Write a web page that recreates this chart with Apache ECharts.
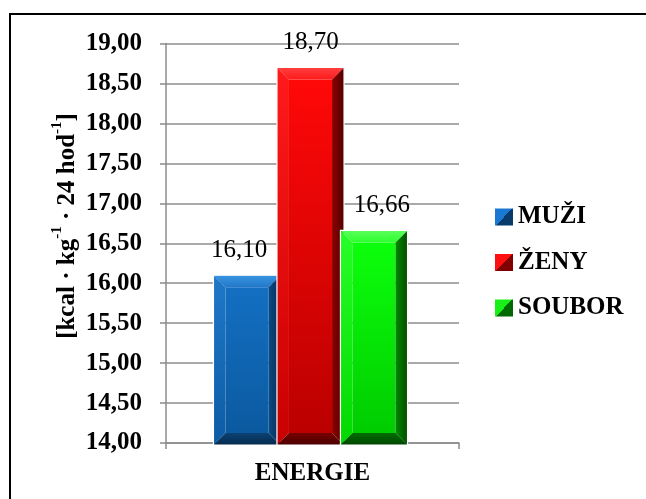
<!DOCTYPE html>
<html>
<head>
<meta charset="utf-8">
<title>ENERGIE</title>
<script src="https://cdn.jsdelivr.net/npm/echarts@6/dist/echarts.min.js"></script>
<style>
  html, body { margin: 0; padding: 0; background: #fff; }
  #chart { width: 646px; height: 499px; }
</style>
</head>
<body>
<div id="chart"></div>
<script>
// Energy intake per kg body weight per 24 h, by group
const categories = ['ENERGIE'];
const seriesNames = ['MUŽI', 'ŽENY', 'SOUBOR'];
const muzi = [16.10];
const zeny = [18.70];
const soubor = [16.66];
const yTickLabels = ['14,00', '14,50', '15,00', '15,50', '16,00', '16,50',
                     '17,00', '17,50', '18,00', '18,50', '19,00'];

const toNum = s => parseFloat(s.replace(',', '.'));
const yMin = toNum(yTickLabels[0]);
const yMax = toNum(yTickLabels[yTickLabels.length - 1]);
const yStep = toNum(yTickLabels[1]) - yMin;
const fmt = v => v.toFixed(2).replace('.', ',');

const FONT = "'Liberation Serif', 'Times New Roman', serif";

// Bevelled bar shading per group
const palettes = [
  { face: ['#146fc2', '#0b5aa0'], top: ['#3a94e2', '#2278c8'], left: ['#1f78c8', '#0c5ca4'],
    right: ['#0a4a86', '#052c55'], bottom: ['#0b4274', '#062a4c'],
    legendLight: '#1a7ad2', legendDark: '#083a6c' },
  { face: ['#ff0808', '#bb0000'], top: ['#ff4040', '#ff1a1a'], left: ['#ff1a1a', '#c80000'],
    right: ['#8e0000', '#520000'], bottom: ['#780000', '#4a0000'],
    legendLight: '#ff1010', legendDark: '#800000' },
  { face: ['#0cff0c', '#00cc00'], top: ['#5cff5c', '#2cff2c'], left: ['#28ff28', '#00d800'],
    right: ['#008a00', '#004d00'], bottom: ['#006e00', '#004400'],
    legendLight: '#18f018', legendDark: '#006a00' }
];

const vGrad = c => ({ type: 'linear', x: 0, y: 0, x2: 0, y2: 1,
  colorStops: [{ offset: 0, color: c[0] }, { offset: 1, color: c[1] }] });
const hGrad = c => ({ type: 'linear', x: 0, y: 0, x2: 1, y2: 0,
  colorStops: [{ offset: 0, color: c[0] }, { offset: 1, color: c[1] }] });
const iconGrad = p => ({ type: 'linear', x: 0, y: 0, x2: 1, y2: 1,
  colorStops: [{ offset: 0, color: p.legendLight }, { offset: 0.5, color: p.legendLight },
               { offset: 0.5, color: p.legendDark }, { offset: 1, color: p.legendDark }] });

const labelShift = [-8, 0, 8];

function makeRender(slot) {
  const pal = palettes[slot];
  return function (params, api) {
    const cat = api.value(0);
    const val = api.value(1);
    const band = api.size([1, 0])[0];
    const topPt = api.coord([cat, val]);
    const basePt = api.coord([cat, yMin]);
    const w = band * 0.229;
    const cx = topPt[0] - 2 + (slot - 1) * band * 0.2167;
    const x0 = cx - w / 2, x1 = cx + w / 2;
    const y0 = topPt[1], y1 = basePt[1] + 2;
    const b = 12;
    return {
      type: 'group',
      children: [
        { type: 'rect', shape: { x: x0 + b, y: y0 + b, width: w - 2 * b, height: y1 - y0 - 2 * b },
          style: { fill: vGrad(pal.face) } },
        { type: 'polygon', shape: { points: [[x0, y0], [x1, y0], [x1 - b, y0 + b], [x0 + b, y0 + b]] },
          style: { fill: vGrad(pal.top) } },
        { type: 'polygon', shape: { points: [[x0, y0], [x0 + b, y0 + b], [x0 + b, y1 - b], [x0, y1]] },
          style: { fill: vGrad(pal.left) } },
        { type: 'polygon', shape: { points: [[x1, y0], [x1 - b, y0 + b], [x1 - b, y1 - b], [x1, y1]] },
          style: { fill: hGrad(pal.right) } },
        { type: 'polygon', shape: { points: [[x0, y1], [x1, y1], [x1 - b, y1 - b], [x0 + b, y1 - b]] },
          style: { fill: vGrad(pal.bottom) } },
        { type: 'rect', shape: { x: x0, y: y0, width: w, height: y1 - y0 },
          style: { fill: 'none', stroke: '#ffffff', lineWidth: 1.2 } },
        { type: 'text', style: { text: fmt(val), x: cx + labelShift[slot], y: y0 - 25,
          align: 'center', verticalAlign: 'middle', fill: '#000',
          font: "25px " + FONT } }
      ]
    };
  };
}

const values = [muzi, zeny, soubor];

const chart = echarts.init(document.getElementById('chart'), null, { renderer: 'canvas' });
chart.setOption({
  animation: false,
  backgroundColor: '#ffffff',
  grid: { left: 166, right: 187, top: 43.5, bottom: 56, containLabel: false },
  xAxis: {
    type: 'category',
    data: categories,
    axisLine: { lineStyle: { color: '#8c8c8c', width: 1.5 } },
    axisTick: { show: true, length: 6, lineStyle: { color: '#8c8c8c', width: 1.5 } },
    axisLabel: { color: '#000', fontFamily: FONT, fontSize: 25, fontWeight: 'bold', margin: 18 },
    splitLine: { show: false }
  },
  yAxis: {
    type: 'value',
    min: yMin, max: yMax, interval: yStep,
    axisLine: { show: true, lineStyle: { color: '#8c8c8c', width: 1.5 } },
    axisTick: { show: true, length: 6, lineStyle: { color: '#8c8c8c', width: 1.5 } },
    splitLine: { show: true, lineStyle: { color: '#8c8c8c', width: 1.5 } },
    axisLabel: {
      color: '#000', fontFamily: FONT, fontSize: 25, fontWeight: 'bold', margin: 24,
      formatter: v => yTickLabels[Math.round((v - yMin) / yStep)]
    }
  },
  legend: {
    orient: 'vertical',
    left: 490, top: 199.5,
    icon: 'rect',
    itemWidth: 18, itemHeight: 17, itemGap: 20.5,
    textStyle: { color: '#000', fontFamily: FONT, fontSize: 25, fontWeight: 'bold', lineHeight: 25 },
    data: seriesNames.map((n, i) => ({ name: n, itemStyle: { color: iconGrad(palettes[i]) } }))
  },
  graphic: [
    { type: 'rect', z: 100, silent: true,
      shape: { x: 10, y: 14, width: 700, height: 600 },
      style: { fill: 'none', stroke: '#000', lineWidth: 2 } },
    { type: 'text', x: 65, y: 226, rotation: Math.PI / 2,
      style: {
        text: '{m|[kcal · kg}{s|-1}{m| · 24 hod}{s|-1}{m|]}',
        align: 'center', verticalAlign: 'middle', fill: '#000',
        rich: {
          m: { fontFamily: FONT, fontSize: 25, fontWeight: 'bold', lineHeight: 30, verticalAlign: 'bottom', fill: '#000' },
          s: { fontFamily: FONT, fontSize: 15, fontWeight: 'bold', lineHeight: 15, verticalAlign: 'top', fill: '#000' }
        }
      } }
  ],
  series: seriesNames.map((n, i) => ({
    name: n,
    type: 'custom',
    itemStyle: { color: iconGrad(palettes[i]) },
    renderItem: makeRender(i),
    encode: { x: 0, y: 1 },
    data: values[i].map((v, k) => [k, v])
  }))
});
</script>
</body>
</html>
